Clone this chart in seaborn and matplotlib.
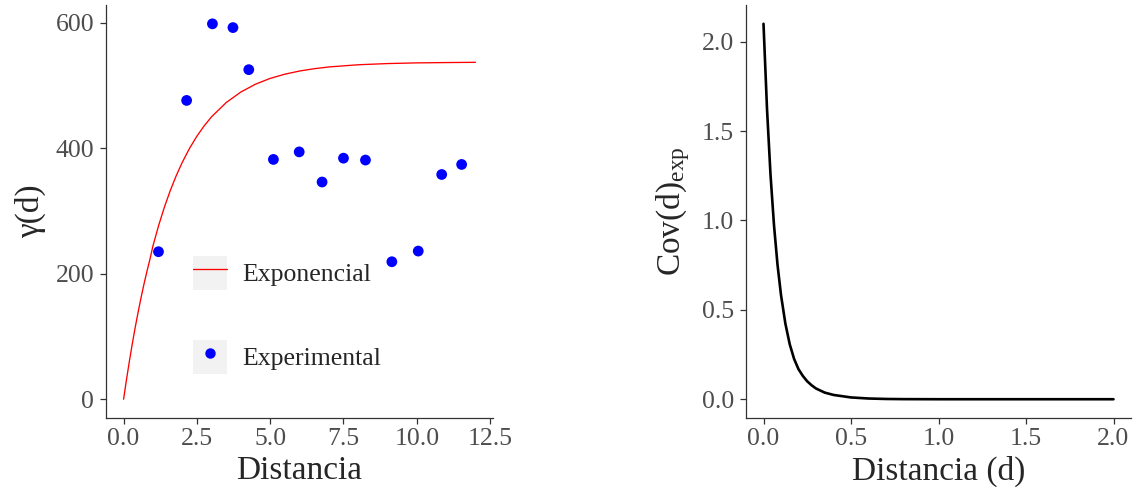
import numpy as np
import pandas as pd
import matplotlib
matplotlib.use("Agg")
import matplotlib.pyplot as plt
import seaborn as sns
from matplotlib.legend_handler import HandlerLine2D
from matplotlib.patches import Rectangle
from matplotlib.lines import Line2D

# ---------------- data ----------------
exp_dist = [1.19, 2.15, 3.03, 3.73, 4.27, 5.11, 5.99, 6.77, 7.50, 8.25, 9.15, 10.05, 10.85, 11.53]
exp_gamma = [235, 476, 598, 592, 525, 382, 394, 346, 384, 381, 219, 236, 358, 374]

fit_dist = [0, 0.05, 0.1, 0.2, 0.3, 0.4, 0.5, 0.6, 0.7, 0.8, 0.9, 1.0, 1.2, 1.4, 1.6, 1.8,
            2.0, 2.25, 2.5, 2.75, 3.0, 3.5, 4.0, 4.5, 5.0, 5.5, 6.0, 6.5, 7.0, 8.0, 9.0,
            10.0, 11.0, 12.0]
fit_gamma = [0, 16, 31.6, 61.3, 89.2, 115.4, 139.8, 162.8, 184.4, 204.4, 223.2, 244.1, 277.5,
             307.2, 333.4, 356.6, 377.2, 399.7, 419, 435.6, 449.9, 472.6, 489.4, 501.9, 511.1,
             517.8, 522.8, 526.5, 529.3, 532.8, 534.7, 535.8, 536.3, 536.7]

cov_dist = [0, 0.02, 0.04, 0.06, 0.08, 0.1, 0.125, 0.15, 0.175, 0.2, 0.225, 0.25, 0.275, 0.3,
            0.35, 0.4, 0.5, 0.6, 0.7, 0.8, 1.0, 1.5, 2.0]
cov_val = [2.10, 1.625, 1.257, 0.973, 0.753, 0.583, 0.423, 0.307, 0.225, 0.168, 0.13, 0.10,
           0.078, 0.06, 0.037, 0.024, 0.010, 0.004, 0.0015, 0.0005, 0, 0, 0]

left_xticks = [0.0, 2.5, 5.0, 7.5, 10.0, 12.5]
left_yticks = [0, 200, 400, 600]
right_xticks = [0.0, 0.5, 1.0, 1.5, 2.0]
right_yticks = [0.0, 0.5, 1.0, 1.5, 2.0]

# ---------------- style ----------------
sns.set_theme(style="ticks")
plt.rcParams["font.family"] = ["Liberation Serif", "DejaVu Serif"]
plt.rcParams["mathtext.fontset"] = "custom"
plt.rcParams["mathtext.rm"] = "Liberation Serif"
plt.rcParams["mathtext.it"] = "Liberation Serif:italic"
plt.rcParams["axes.edgecolor"] = "#333333"
plt.rcParams["axes.linewidth"] = 0.9
plt.rcParams["xtick.color"] = "#333333"
plt.rcParams["ytick.color"] = "#333333"
plt.rcParams["xtick.labelcolor"] = "#4d4d4d"
plt.rcParams["ytick.labelcolor"] = "#4d4d4d"
plt.rcParams["xtick.major.size"] = 4.5
plt.rcParams["ytick.major.size"] = 4.5
plt.rcParams["xtick.major.width"] = 0.9
plt.rcParams["ytick.major.width"] = 0.9
plt.rcParams["xtick.major.pad"] = 2.5
plt.rcParams["ytick.major.pad"] = 4.0

TICK_FS = 18.5
fig = plt.figure(figsize=(11.43, 4.90), dpi=100)
ax1 = fig.add_axes([106 / 1143, 1 - 418 / 490, (493 - 106) / 1143, (418 - 5) / 490])
ax2 = fig.add_axes([746 / 1143, 1 - 418 / 490, (1131 - 746) / 1143, (418 - 5) / 490])

# ---------------- left panel ----------------
df_fit = pd.DataFrame({"Distancia": fit_dist, "gamma": fit_gamma})
df_exp = pd.DataFrame({"Distancia": exp_dist, "gamma": exp_gamma})
sns.lineplot(data=df_fit, x="Distancia", y="gamma", ax=ax1, color="#ff0000",
             linewidth=0.95, label="Exponencial", legend=False)
sns.scatterplot(data=df_exp, x="Distancia", y="gamma", ax=ax1, color="#0000ff",
                s=60, edgecolor="none", label="Experimental", legend=False, zorder=3)
ax1.set_xlim(-0.6, 12.6)
ax1.set_ylim(-29.9, 628)
ax1.set_xticks(left_xticks)
ax1.set_xticklabels([f"{v:.1f}" for v in left_xticks])
ax1.set_yticks(left_yticks)
ax1.set_yticklabels([str(v) for v in left_yticks])
ax1.set_xlabel("Distancia", fontsize=24, labelpad=4)
ax1.set_ylabel("γ(d)", fontsize=24, labelpad=7)
ax1.tick_params(labelsize=TICK_FS)


class KeyBg(HandlerLine2D):
    def create_artists(self, legend, orig_handle, xdescent, ydescent, width, height, fontsize, trans):
        arts = super().create_artists(legend, orig_handle, xdescent, ydescent, width, height, fontsize, trans)
        rect = Rectangle((-xdescent, -ydescent), width, height, facecolor="#f2f2f2",
                         edgecolor="none", transform=trans)
        return [rect] + list(arts)


h_line = Line2D([], [], color="#ff0000", linewidth=0.95)
h_pt = Line2D([], [], color="#0000ff", marker="o", linestyle="none", markersize=7.5,
              markeredgewidth=0)
leg = ax1.legend([h_line, h_pt], ["Exponencial", "Experimental"],
                 handler_map={h_line: KeyBg(), h_pt: KeyBg(numpoints=1)},
                 loc="upper left", bbox_to_anchor=(0.225, 0.392), frameon=False,
                 fontsize=TICK_FS, handlelength=1.33, handleheight=1.65, handletextpad=0.6,
                 labelspacing=1.95, borderpad=0, borderaxespad=0)

# ---------------- right panel ----------------
df_cov = pd.DataFrame({"d": cov_dist, "cov": cov_val})
sns.lineplot(data=df_cov, x="d", y="cov", ax=ax2, color="black", linewidth=1.9)
ax2.set_xlim(-0.1, 2.1)
ax2.set_ylim(-0.105, 2.205)
ax2.set_xticks(right_xticks)
ax2.set_xticklabels([f"{v:.1f}" for v in right_xticks])
ax2.set_yticks(right_yticks)
ax2.set_yticklabels([f"{v:.1f}" for v in right_yticks])
ax2.set_xlabel("Distancia (d)", fontsize=24, labelpad=4)
ax2.set_ylabel(r"Cov(d)$_\mathregular{exp}$", fontsize=24, labelpad=7)
ax2.tick_params(labelsize=TICK_FS)

sns.despine(ax=ax1)
sns.despine(ax=ax2)

fig.savefig("out.png", dpi=100)
